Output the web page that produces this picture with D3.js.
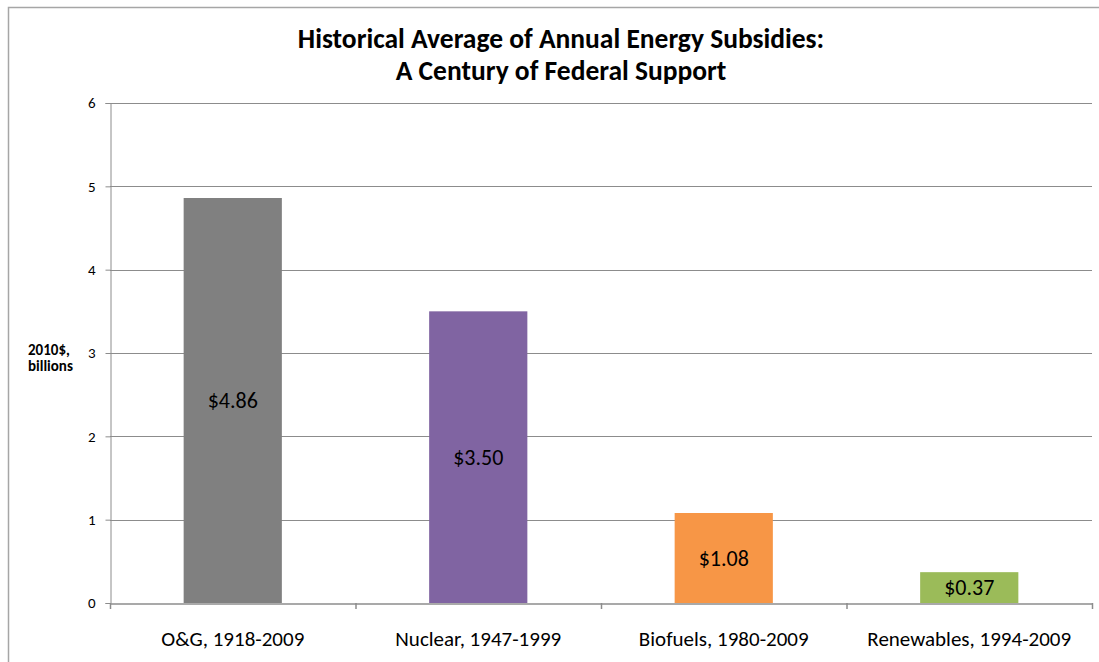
<!DOCTYPE html>
<html><head><meta charset="utf-8">
<script src="https://cdn.jsdelivr.net/npm/d3@7"></script>
<style>body{margin:0;background:#fff}svg{display:block}text{font-family:Carlito,Calibri,Lato,"Open Sans",sans-serif}</style>
</head><body>
<svg id="c" width="1099" height="662"></svg>
<script>
const categories = ["O&G, 1918-2009","Nuclear, 1947-1999","Biofuels, 1980-2009","Renewables, 1994-2009"];
const values = [4.86, 3.50, 1.08, 0.37];
const valueLabels = ["$4.86","$3.50","$1.08","$0.37"];
const colors = ["#808080","#8064A2","#F79646","#9BBB59"];
const yTicks = [0,1,2,3,4,5,6];
const titleLines = ["Historical Average of Annual Energy Subsidies:","A Century of Federal Support"];
const yLabelLines = ["2010$,","billions"];

const FONT = "Carlito,Calibri,Lato,'Open Sans',sans-serif";
const svg = d3.select("#c");
// frame
svg.append("rect").attr("x",8.5).attr("y",7.5).attr("width",1200).attr("height",700)
  .attr("fill","none").attr("stroke","#a6a6a6").attr("stroke-width",1.5);

const L=110, R=1092, T=103, B=603;
const x = d3.scaleBand().domain(categories).range([L,R]).paddingInner(0.6).paddingOuter(0.3);
const xb = d3.scaleBand().domain(categories).range([L,R]);
const y = d3.scaleLinear().domain([0,6]).range([B,T]);

// gridlines
svg.append("g").selectAll("line").data(yTicks.filter(d=>d>0)).join("line")
  .attr("x1",L).attr("x2",R).attr("y1",d=>Math.round(y(d))+0.5).attr("y2",d=>Math.round(y(d))+0.5)
  .attr("stroke","#8c8c8c").attr("stroke-width",1);

// bars
svg.append("g").selectAll("rect").data(values).join("rect")
  .attr("x",(d,i)=>x(categories[i])).attr("width",x.bandwidth())
  .attr("y",d=>y(d)).attr("height",d=>B-y(d)).attr("fill",(d,i)=>colors[i]);

// y axis
const ya = svg.append("g").attr("transform",`translate(${L+0.5},0)`)
  .call(d3.axisLeft(y).tickValues(yTicks).tickSize(5).tickPadding(10).tickFormat(d3.format("d")));
ya.select(".domain").attr("stroke","#8c8c8c");
ya.selectAll(".tick line").attr("stroke","#8c8c8c");
ya.selectAll(".tick text").attr("font-size",15).attr("fill","#000").style("font-family",FONT);

// x axis
const xa = svg.append("g").attr("transform",`translate(0,${B+0.5})`)
  .call(d3.axisBottom(xb).tickSize(0).tickPadding(28));
xa.select(".domain").attr("stroke","#8c8c8c").attr("stroke-width",1.5);
xa.selectAll(".tick text").attr("font-size",21).attr("fill","#000").style("font-family",FONT);
// category separator ticks
svg.append("g").selectAll("line").data(categories.concat(["end"])).join("line")
  .attr("x1",(d,i)=>i<categories.length?xb(d)+0.5:R+0.5)
  .attr("x2",(d,i)=>i<categories.length?xb(d)+0.5:R+0.5)
  .attr("y1",B).attr("y2",B+6).attr("stroke","#8c8c8c").attr("stroke-width",1.5);

// value labels
svg.append("g").selectAll("text").data(values).join("text")
  .attr("x",(d,i)=>x(categories[i])+x.bandwidth()/2)
  .attr("y",d=>(y(d)+B)/2).attr("dy","0.35em").attr("text-anchor","middle")
  .attr("font-size",22).attr("fill","#000").text((d,i)=>valueLabels[i]);

// title
svg.append("g").selectAll("text").data(titleLines).join("text")
  .attr("x",561).attr("y",(d,i)=>48+i*32).attr("text-anchor","middle")
  .attr("font-size",27.5).attr("font-weight","bold").attr("fill","#000").text(d=>d);

// y label
svg.append("g").selectAll("text").data(yLabelLines).join("text")
  .attr("x",28).attr("y",(d,i)=>355+i*16)
  .attr("font-size",15).attr("font-weight","bold").attr("fill","#000").text(d=>d);
</script>
</body></html>
